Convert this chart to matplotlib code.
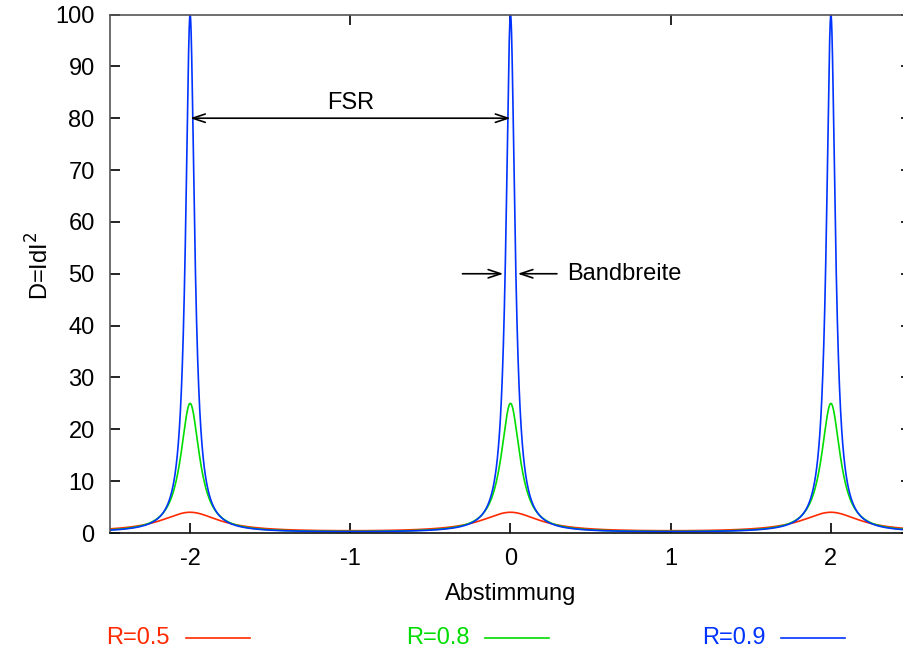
import numpy as np
import matplotlib
matplotlib.use("Agg")
import matplotlib.pyplot as plt
from matplotlib.lines import Line2D

plt.rcParams['font.family'] = ['Liberation Sans', 'DejaVu Sans']

# Data: reflectivities of the three resonators (Airy function D = |d|^2)
R_values = [0.5, 0.8, 0.9]
labels = ["R=0.5", "R=0.8", "R=0.9"]
colors = ["#ff2a00", "#00dd00", "#0033ff"]
x_range = (-2.5, 2.5)
xticks = [-2, -1, 0, 1, 2]
yticks = [0, 10, 20, 30, 40, 50, 60, 70, 80, 90, 100]

x = np.linspace(x_range[0], x_range[1], 20001)

FS = 17

fig = plt.figure(figsize=(9.04, 6.55), dpi=100)
ax = fig.add_axes([110/904, 122/655, (911-110)/904, (533-14.5)/655])

for R, c in zip(R_values, colors):
    D = 1.0 / ((1 - R) ** 2 + 4 * R * np.sin(np.pi * x / 2) ** 2)
    ax.plot(x, D, color=c, lw=1.2)

ax.set_xlim(*x_range)
ax.set_ylim(0, 100)
ax.set_xticks(xticks)
ax.set_xticklabels([str(t) for t in xticks])
ax.set_yticks(yticks)
ax.tick_params(direction='in', length=7, width=1.2, labelsize=FS, top=True, right=True)
ax.tick_params(axis='x', pad=11)
ax.tick_params(axis='y', pad=11)
for s in ax.spines.values():
    s.set_linewidth(1.2)
    s.set_color('#555555')
ax.spines['bottom'].set_color('#111111')

ax.set_xlabel("Abstimmung", fontsize=FS, labelpad=9)
ax.set_ylabel("D=IdI$^2$", fontsize=FS, va='center', ha='center')
ax.yaxis.set_label_coords((40 - 110) / 801, 0.515)

# FSR arrow
ax.annotate("", xy=(0, 80), xytext=(-2, 80),
            arrowprops=dict(arrowstyle="<->,head_length=0.9,head_width=0.3", lw=1.2, color='black',
                            shrinkA=0, shrinkB=0))
ax.text(-1, 83.0, "FSR", ha='center', va='center', fontsize=FS)

# Bandbreite arrows
ax.annotate("", xy=(-0.045, 50), xytext=(-0.30, 50),
            arrowprops=dict(arrowstyle="->,head_length=0.9,head_width=0.3", lw=1.2, color='black',
                            shrinkA=0, shrinkB=0))
ax.annotate("", xy=(0.045, 50), xytext=(0.29, 50),
            arrowprops=dict(arrowstyle="->,head_length=0.9,head_width=0.3", lw=1.2, color='black',
                            shrinkA=0, shrinkB=0))
ax.text(0.355, 50, "Bandbreite", ha='left', va='center', fontsize=FS)

# Legend (gnuplot style, below plot)
text_right = [170, 470, 766]
line_x = [(186, 250), (485, 549), (781, 845)]
ly = 1 - 638/655
for lab, c, tr, (x0, x1) in zip(labels, colors, text_right, line_x):
    fig.text(tr/904, ly, lab, color=c, fontsize=FS, ha='right', va='center')
    fig.add_artist(Line2D([x0/904, x1/904], [ly, ly], color=c, lw=1.2, transform=fig.transFigure))

fig.savefig("out.png", dpi=100)
